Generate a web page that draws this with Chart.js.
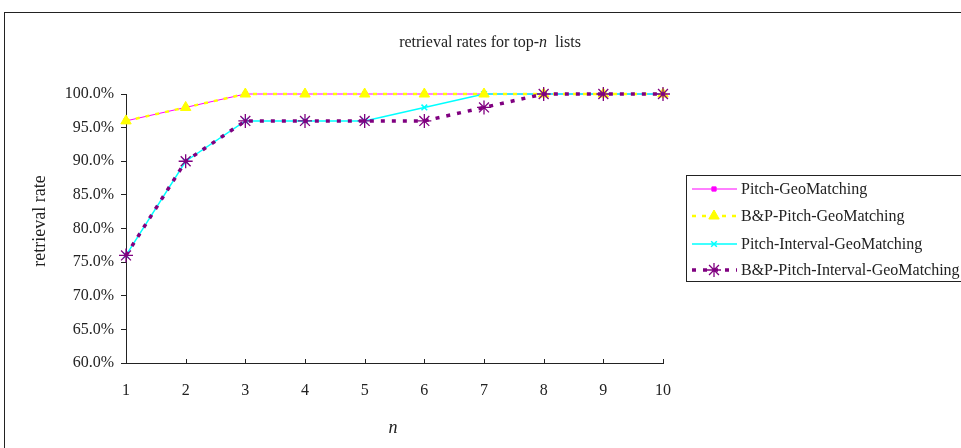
<!DOCTYPE html>
<html>
<head>
<meta charset="utf-8">
<script src="https://cdn.jsdelivr.net/npm/chart.js@4.4.1/dist/chart.umd.min.js"></script>
<style>
  body { margin: 0; background: #fff; overflow: hidden; }
  canvas { display: block; }
</style>
</head>
<body>
<canvas id="rateChart" width="961" height="448"></canvas>
<script>
"use strict";

// данные графика
const topN = ["1", "2", "3", "4", "5", "6", "7", "8", "9", "10"];
const pitchGeo = [96, 98, 100, 100, 100, 100, 100, 100, 100, 100];
const bpPitchGeo = [96, 98, 100, 100, 100, 100, 100, 100, 100, 100];
const pitchIntervalGeo = [76, 90, 96, 96, 96, 98, 100, 100, 100, 100];
const bpPitchIntervalGeo = [76, 90, 96, 96, 96, 96, 98, 100, 100, 100];
const rateTicks = [60, 65, 70, 75, 80, 85, 90, 95, 100];

const serif = "'Liberation Serif', 'DejaVu Serif', serif";

// рамка, заголовки, засечки оси x и легенда
const decorPlugin = {
  id: "decor",
  beforeDraw(chart) {
    const ctx = chart.ctx;
    ctx.save();
    ctx.fillStyle = "#fff";
    ctx.fillRect(0, 0, chart.width, chart.height);
    ctx.strokeStyle = "#222";
    ctx.lineWidth = 1;
    ctx.strokeRect(4.5, 12.5, 2000, 2000);
    ctx.restore();
  },
  afterDraw(chart) {
    const ctx = chart.ctx;
    const area = chart.chartArea;
    ctx.save();
    ctx.fillStyle = "#222";
    ctx.textBaseline = "middle";

    // заголовок с курсивной n
    const parts = [
      ["retrieval rates for top-", "16px " + serif],
      ["n", "italic 16px " + serif],
      ["  lists", "16px " + serif],
    ];
    let total = 0;
    parts.forEach((p) => {
      ctx.font = p[1];
      total += ctx.measureText(p[0]).width;
    });
    let x = 490 - total / 2;
    parts.forEach((p) => {
      ctx.font = p[1];
      ctx.textAlign = "left";
      ctx.fillText(p[0], x, 43);
      x += ctx.measureText(p[0]).width;
    });

    // подпись оси x
    ctx.font = "italic 18px " + serif;
    ctx.textAlign = "center";
    ctx.fillText("n", 393, 428);

    // подпись оси y
    ctx.save();
    ctx.translate(40, 221);
    ctx.rotate(-Math.PI / 2);
    ctx.font = "18px " + serif;
    ctx.fillText("retrieval rate", 0, 0);
    ctx.restore();

    // засечки оси x внутрь
    const xs = chart.scales.x;
    ctx.strokeStyle = "#222";
    ctx.lineWidth = 1;
    ctx.beginPath();
    for (let i = 1; i < topN.length; i++) {
      const px = Math.round(xs.getPixelForTick(i)) + 0.5;
      ctx.moveTo(px, area.bottom);
      ctx.lineTo(px, area.bottom - 4);
    }
    ctx.stroke();

    // легенда
    ctx.strokeStyle = "#222";
    ctx.lineWidth = 1;
    ctx.strokeRect(686.5, 175.5, 400, 106);
    const rows = [189, 216, 244, 270];
    chart.data.datasets.forEach((ds, i) => {
      const y = rows[i];
      ctx.save();
      ctx.strokeStyle = ds.borderColor;
      ctx.lineWidth = ds.borderWidth;
      ctx.setLineDash(ds.borderDash || []);
      ctx.beginPath();
      ctx.moveTo(692, y);
      ctx.lineTo(737, y);
      ctx.stroke();
      ctx.setLineDash([]);
      ctx.fillStyle = ds.pointBackgroundColor;
      ctx.strokeStyle = ds.pointBorderColor;
      ctx.lineWidth = ds.pointBorderWidth;
      if (Chart.helpers && Chart.helpers.drawPoint) {
        Chart.helpers.drawPoint(ctx, {
          pointStyle: ds.pointStyle,
          radius: ds.legendRadius,
          borderWidth: ds.pointBorderWidth,
          rotation: 0,
        }, 714, y);
      }
      ctx.restore();
      ctx.font = "16px " + serif;
      ctx.textAlign = "left";
      ctx.fillStyle = "#222";
      ctx.fillText(ds.label, 741, y + 1);
    });
    ctx.restore();
  },
};

const ctx = document.getElementById("rateChart");
new Chart(ctx, {
  type: "line",
  data: {
    labels: topN,
    datasets: [
      {
        label: "Pitch-GeoMatching",
        data: pitchGeo,
        borderColor: "#ff00ff",
        borderWidth: 1,
        pointStyle: "rect",
        pointRadius: 3,
        legendRadius: 3,
        pointBackgroundColor: "#ff00ff",
        pointBorderColor: "#ff00ff",
        pointBorderWidth: 1,
        clip: false,
        order: 3,
      },
      {
        label: "B&P-Pitch-GeoMatching",
        data: bpPitchGeo,
        borderColor: "#ffff00",
        borderWidth: 2.5,
        borderDash: [4, 6],
        pointStyle: "triangle",
        pointRadius: 6,
        legendRadius: 6,
        pointBackgroundColor: "#ffff00",
        pointBorderColor: "#ffff00",
        pointBorderWidth: 1,
        clip: false,
        order: 1,
      },
      {
        label: "Pitch-Interval-GeoMatching",
        data: pitchIntervalGeo,
        borderColor: "#00ffff",
        borderWidth: 1.5,
        pointStyle: "crossRot",
        pointRadius: 4,
        legendRadius: 4,
        pointBackgroundColor: "#00ffff",
        pointBorderColor: "#00ffff",
        pointBorderWidth: 1.5,
        clip: false,
        order: 2,
      },
      {
        label: "B&P-Pitch-Interval-GeoMatching",
        data: bpPitchIntervalGeo,
        borderColor: "#800080",
        borderWidth: 3.5,
        borderDash: [4, 7],
        pointStyle: "star",
        pointRadius: 7,
        legendRadius: 7,
        pointBackgroundColor: "#800080",
        pointBorderColor: "#800080",
        pointBorderWidth: 1.3,
        clip: false,
        order: 0,
      },
    ],
  },
  options: {
    responsive: false,
    animation: false,
    layout: {
      padding: { left: 0, top: 94, right: 298, bottom: 0 },
    },
    elements: {
      line: { tension: 0, borderCapStyle: "butt" },
    },
    plugins: {
      legend: { display: false },
      title: { display: false },
      tooltip: { enabled: false },
    },
    scales: {
      x: {
        type: "category",
        offset: false,
        afterFit(scale) {
          scale.height = 85;
        },
        grid: {
          display: true,
          drawOnChartArea: false,
          drawTicks: false,
          offset: false,
        },
        border: { display: true, color: "#222", width: 1 },
        ticks: {
          padding: 18,
          color: "#222",
          maxRotation: 0,
          autoSkip: false,
          font: { family: serif, size: 16 },
        },
      },
      y: {
        min: 60,
        max: 100,
        afterBuildTicks(scale) {
          scale.ticks = rateTicks.map((v) => ({ value: v }));
        },
        afterFit(scale) {
          scale.width = 126;
        },
        grid: {
          display: true,
          drawOnChartArea: false,
          drawTicks: true,
          tickLength: 5,
          color: "#222",
        },
        border: { display: true, color: "#222", width: 1 },
        ticks: {
          padding: 7,
          color: "#222",
          font: { family: serif, size: 16 },
          callback: (v) => v.toFixed(1) + "%",
        },
      },
    },
  },
  plugins: [decorPlugin],
});
</script>
</body>
</html>
